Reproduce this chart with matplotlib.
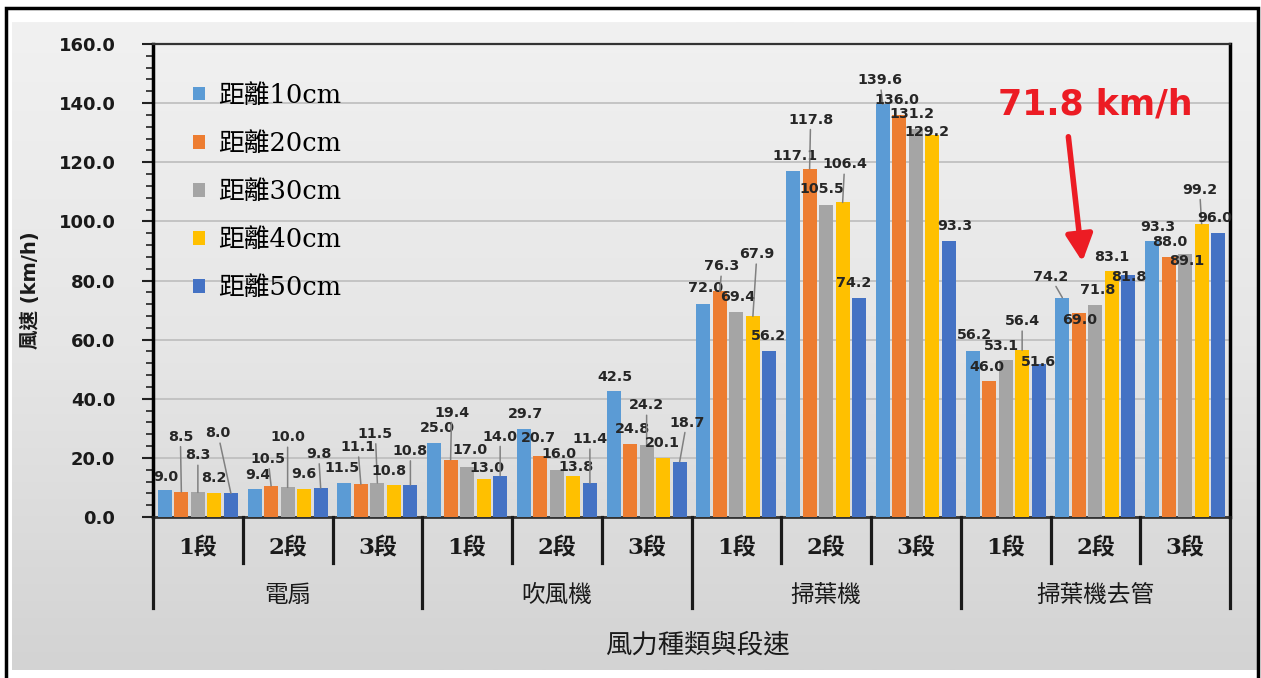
import numpy as np
import matplotlib
matplotlib.use("Agg")
import matplotlib.pyplot as plt
from matplotlib.colors import LinearSegmentedColormap
from matplotlib.patches import Patch
from matplotlib.transforms import blended_transform_factory, offset_copy

# ---- data -------------------------------------------------------------
devices = ["電扇", "吹風機", "掃葉機", "掃葉機去管"]
speeds = ["1段", "2段", "3段"]
series_names = ["距離10cm", "距離20cm", "距離30cm", "距離40cm", "距離50cm"]

# wind speed (km/h) for each device/speed combination, one list per distance
dist_10 = [9.0, 9.4, 11.5, 25.0, 29.7, 42.5, 72.0, 117.1, 139.6, 56.2, 74.2, 93.3]
dist_20 = [8.5, 10.5, 11.1, 19.4, 20.7, 24.8, 76.3, 117.8, 136.0, 46.0, 69.0, 88.0]
dist_30 = [8.3, 10.0, 11.5, 17.0, 16.0, 24.2, 69.4, 105.5, 131.2, 53.1, 71.8, 89.1]
dist_40 = [8.2, 9.6, 10.8, 13.0, 13.8, 20.1, 67.9, 106.4, 129.2, 56.4, 83.1, 99.2]
dist_50 = [8.0, 9.8, 10.8, 14.0, 11.4, 18.7, 56.2, 74.2, 93.3, 51.6, 81.8, 96.0]
series_values = [dist_10, dist_20, dist_30, dist_40, dist_50]

y_ticks = [0, 20, 40, 60, 80, 100, 120, 140, 160]
highlight_group, highlight_series = 10, 2
highlight_text = "71.8 km/h"

# ---- styling ----------------------------------------------------------
colors = ["#5B9BD5", "#ED7D31", "#A5A5A5", "#FFC000", "#4472C4"]
red = "#ec1c24"
W, H, DPI = 1261, 678, 100

# data-label placement (pixel offsets from each bar top: dx, dy)
label_offsets = [
    [(1, 13), (-1, 55), (0, 37), (-1, 15), (-13, 60)],
    [(3, 14), (-3, 27), (0, 50), (0, 15), (-2, 34)],
    [(-2, 15), (-3, 37), (-2, 49), (-5, 14), (0, 34)],
    [(3, 15), (1, 47), (3, 17), (3, 11), (0, 39)],
    [(2, 15), (-2, 18), (2, 16), (3, 9), (0, 44)],
    [(1, 14), (2, 15), (0, 40), (-1, 15), (7, 39)],
    [(2, 16), (2, 25), (1, 15), (4, 62), (-1, 15)],
    [(2, 15), (1, 49), (-4, 16), (2, 38), (-6, 15)],
    [(-3, 24), (-2, 15), (-4, 15), (-5, 3), (6, 15)],
    [(2, 16), (-2, 14), (-4, 14), (0, 29), (0, 2)],
    [(-12, 21), (1, -7), (2, 15), (0, 14), (0, -2)],
    [(6, 14), (1, 15), (2, -7), (-2, 34), (-3, 15)],
]

serif_cjk = ["DejaVu Serif", "Noto Sans CJK TC"]
sans_cjk = ["DejaVu Sans", "Noto Sans CJK TC"]

fig = plt.figure(figsize=(W / DPI, H / DPI), dpi=DPI, facecolor="white")


def fx(px):
    return px / W


def fy(py):
    return 1 - py / H


# gray gradient backdrop
bg = fig.add_axes([fx(12), fy(670), fx(1257) - fx(12), fy(22) - fy(670)], zorder=-5)
grad_cmap = LinearSegmentedColormap.from_list("bg", ["#f1f1f1", "#e6e6e6", "#d3d3d3"])
bg.imshow(np.linspace(0, 1, 256).reshape(-1, 1), aspect="auto", cmap=grad_cmap,
          extent=[0, 1, 0, 1], origin="upper")
bg.axis("off")

# outer frame
frame = fig.add_axes([0, 0, 1, 1], zorder=-4)
frame.set_xlim(0, W)
frame.set_ylim(H, 0)
frame.axis("off")
frame.plot([6, 6, 1258, 1258], [677, 8, 8, 677], color="black", lw=2.5,
           solid_joinstyle="miter")

# main plot axes
ax = fig.add_axes([fx(153), fy(517), fx(1230) - fx(153), fy(44) - fy(517)], zorder=2)
ax.set_facecolor("none")

n_groups = len(dist_10)
x = np.arange(n_groups)
pitch, width = 0.184, 0.156
for i, (vals, name, col) in enumerate(zip(series_values, series_names, colors)):
    ax.bar(x + (i - 2) * pitch, vals, width, color=col, label=name, zorder=3)

ax.set_xlim(-0.5, n_groups - 0.5)
ax.set_ylim(y_ticks[0], y_ticks[-1])
ax.set_axisbelow(True)
ax.yaxis.grid(True, color="#bdbdbd", lw=1.2)
ax.set_yticks(y_ticks)
ax.set_yticklabels([f"{t:.1f}" for t in y_ticks], fontsize=13, fontweight="bold",
                   color="#1a1a1a")
ax.set_yticks(np.arange(0, 161, 4), minor=True)
ax.tick_params(axis="y", which="major", length=8, width=1.5, pad=19, color="#222222")
ax.tick_params(axis="y", which="minor", length=5, width=1.2, color="#222222")
ax.set_xticks([])
for side, (c, lw) in {"left": ("black", 2.5), "right": ("black", 2.5),
                      "top": ("#333333", 1.6), "bottom": ("#333333", 2.0)}.items():
    ax.spines[side].set_color(c)
    ax.spines[side].set_linewidth(lw)

# data labels with leader lines where the label floats above its bar
for g in range(n_groups):
    for i, vals in enumerate(series_values):
        dx, dy = label_offsets[g][i]
        arrow = None
        if dy > 20:
            arrow = dict(arrowstyle="-", color="#808080", lw=1.1, shrinkA=0, shrinkB=0)
        ax.annotate(f"{vals[g]:.1f}", xy=(x[g] + (i - 2) * pitch, vals[g]),
                    xytext=(dx, dy), textcoords="offset pixels",
                    ha="center", va="center", fontsize=10.3, fontweight="bold",
                    color="#262626", arrowprops=arrow, zorder=5,
                    annotation_clip=False)

# two-level category axis below the plot
trans = blended_transform_factory(ax.transData, ax.transAxes)
sub_depth, grp_depth = -0.0973, -0.1924
for b in np.arange(-0.5, n_groups, 1.0):
    depth = grp_depth if int(round(b + 0.5)) % 3 == 0 else sub_depth
    ax.plot([b, b], [0, depth], transform=trans, color="#1a1a1a", lw=2.3,
            clip_on=False, zorder=4)
for g in range(n_groups):
    ax.text(x[g], -0.0655, speeds[g % 3], transform=trans, ha="center", va="center",
            fontsize=16.5, fontweight="bold", family=serif_cjk, color="#1a1a1a")
for d, name in enumerate(devices):
    ax.text(3 * d + 1, -0.165, name, transform=trans, ha="center", va="center",
            fontsize=17, family=["Noto Sans CJK TC"], color="#1a1a1a")

fig.text(fx(697), fy(645), "風力種類與段速", ha="center", va="center", fontsize=19,
         family=["Noto Sans CJK TC"], color="#1a1a1a")
fig.text(fx(30), fy(290), "風速 (km/h)", ha="center", va="center", rotation=90,
         fontsize=14, fontweight="bold", family=sans_cjk, color="#1a1a1a")

# legend
handles = [Patch(facecolor=c, edgecolor="none") for c in colors]
ax.legend(handles, series_names, loc="upper left", bbox_to_anchor=(0.028, 0.94),
          frameon=False, prop={"family": serif_cjk, "size": 18.5},
          handlelength=0.45, handleheight=0.45, handletextpad=0.5,
          labelspacing=0.9, borderaxespad=0)

# highlighted value with red arrow
hx = x[highlight_group] + (highlight_series - 2) * pitch
hv = series_values[highlight_series][highlight_group]
ax.annotate(highlight_text, xy=(hx, hv), xytext=(0, 200), textcoords="offset pixels",
            ha="center", va="center", fontsize=25, fontweight="bold", color=red,
            annotation_clip=False, zorder=6)
tip = offset_copy(ax.transData, fig=fig, x=-13, y=43, units="dots")
ax.annotate("", xy=(hx, hv), xycoords=tip, xytext=(-14, 125),
            textcoords="offset pixels",
            arrowprops=dict(arrowstyle="-|>,head_length=0.9,head_width=0.45",
                            mutation_scale=18, color=red, lw=4,
                            shrinkA=0, shrinkB=0),
            annotation_clip=False, zorder=6)

fig.savefig("out.png", dpi=DPI, facecolor="white")
